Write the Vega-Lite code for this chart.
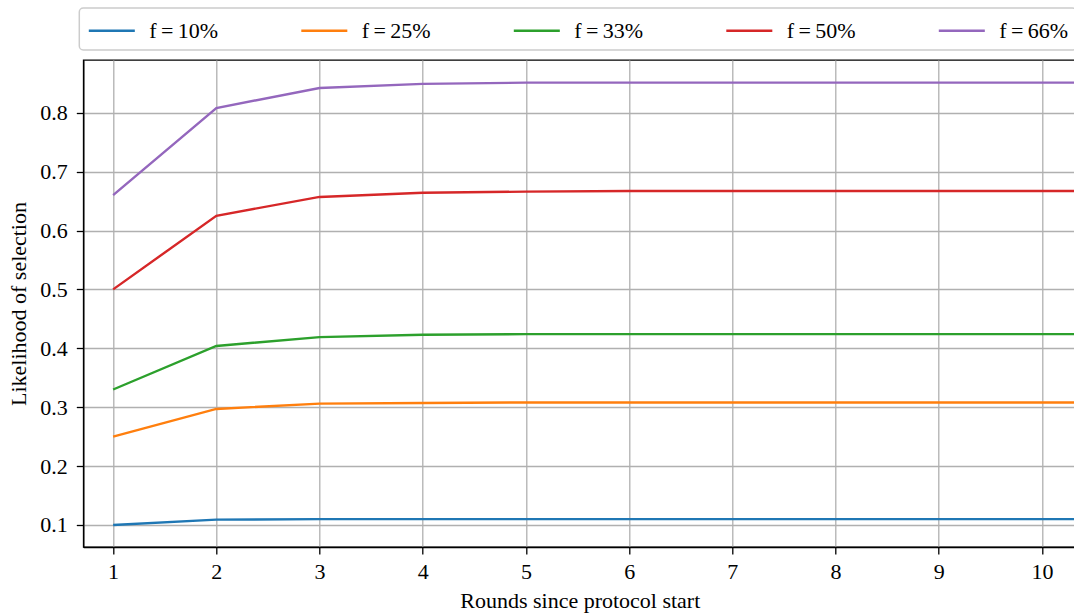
{
  "$schema": "https://vega.github.io/schema/vega-lite/v6.json",
  "width": 993,
  "height": 487,
  "autosize": "none",
  "padding": {"left": 83.3, "top": 60, "right": 0, "bottom": 67},
  "background": "white",
  "config": {
    "view": {"stroke": "black", "strokeWidth": 1.3},
    "font": "Liberation Serif",
    "legend": {"strokeColor": "#cccccc", "strokeWidth": 1.5, "cornerRadius": 4, "fillColor": "white", "labelFont": "Liberation Serif", "labelFontSize": 22},
    "axis": {
      "labelFont": "Liberation Serif",
      "titleFont": "Liberation Serif",
      "labelFontSize": 22,
      "titleFontSize": 22,
      "labelColor": "black",
      "titleColor": "black",
      "titleFontWeight": "normal",
      "domainColor": "black",
      "domainWidth": 1.3,
      "tickColor": "black",
      "tickWidth": 1.3,
      "tickSize": 7,
      "gridColor": "#b0b0b0",
      "gridWidth": 1.3,
      "gridOpacity": 1
    }
  },
  "data": {
    "values": [
      {"round": 1, "f": "f10", "p": 0.100}, {"round": 2, "f": "f10", "p": 0.109}, {"round": 3, "f": "f10", "p": 0.110}, {"round": 4, "f": "f10", "p": 0.110}, {"round": 5, "f": "f10", "p": 0.110}, {"round": 6, "f": "f10", "p": 0.110}, {"round": 7, "f": "f10", "p": 0.110}, {"round": 8, "f": "f10", "p": 0.110}, {"round": 9, "f": "f10", "p": 0.110}, {"round": 10, "f": "f10", "p": 0.110}, {"round": 11, "f": "f10", "p": 0.110},
      {"round": 1, "f": "f25", "p": 0.250}, {"round": 2, "f": "f25", "p": 0.297}, {"round": 3, "f": "f25", "p": 0.306}, {"round": 4, "f": "f25", "p": 0.307}, {"round": 5, "f": "f25", "p": 0.308}, {"round": 6, "f": "f25", "p": 0.308}, {"round": 7, "f": "f25", "p": 0.308}, {"round": 8, "f": "f25", "p": 0.308}, {"round": 9, "f": "f25", "p": 0.308}, {"round": 10, "f": "f25", "p": 0.308}, {"round": 11, "f": "f25", "p": 0.308},
      {"round": 1, "f": "f33", "p": 0.330}, {"round": 2, "f": "f33", "p": 0.404}, {"round": 3, "f": "f33", "p": 0.419}, {"round": 4, "f": "f33", "p": 0.423}, {"round": 5, "f": "f33", "p": 0.424}, {"round": 6, "f": "f33", "p": 0.424}, {"round": 7, "f": "f33", "p": 0.424}, {"round": 8, "f": "f33", "p": 0.424}, {"round": 9, "f": "f33", "p": 0.424}, {"round": 10, "f": "f33", "p": 0.424}, {"round": 11, "f": "f33", "p": 0.424},
      {"round": 1, "f": "f50", "p": 0.500}, {"round": 2, "f": "f50", "p": 0.625}, {"round": 3, "f": "f50", "p": 0.657}, {"round": 4, "f": "f50", "p": 0.664}, {"round": 5, "f": "f50", "p": 0.666}, {"round": 6, "f": "f50", "p": 0.667}, {"round": 7, "f": "f50", "p": 0.667}, {"round": 8, "f": "f50", "p": 0.667}, {"round": 9, "f": "f50", "p": 0.667}, {"round": 10, "f": "f50", "p": 0.667}, {"round": 11, "f": "f50", "p": 0.667},
      {"round": 1, "f": "f66", "p": 0.660}, {"round": 2, "f": "f66", "p": 0.808}, {"round": 3, "f": "f66", "p": 0.842}, {"round": 4, "f": "f66", "p": 0.849}, {"round": 5, "f": "f66", "p": 0.851}, {"round": 6, "f": "f66", "p": 0.851}, {"round": 7, "f": "f66", "p": 0.851}, {"round": 8, "f": "f66", "p": 0.851}, {"round": 9, "f": "f66", "p": 0.851}, {"round": 10, "f": "f66", "p": 0.851}, {"round": 11, "f": "f66", "p": 0.851}
    ]
  },
  "mark": {"type": "line", "strokeWidth": 2.4, "clip": true},
  "encoding": {
    "x": {
      "field": "round", "type": "quantitative",
      "scale": {"domain": [0.711, 10.333], "nice": false, "zero": false},
      "axis": {"values": [1,2,3,4,5,6,7,8,9,10], "title": "Rounds since protocol start", "labelPadding": 8, "titlePadding": 8, "labelFlush": false}
    },
    "y": {
      "field": "p", "type": "quantitative",
      "scale": {"domain": [0.0626, 0.8895], "nice": false, "zero": false},
      "axis": {"values": [0.1,0.2,0.3,0.4,0.5,0.6,0.7,0.8], "format": ".1f", "title": "Likelihood of selection", "labelPadding": 9, "titlePadding": 9, "labelFlush": false}
    },
    "color": {
      "field": "f", "type": "nominal",
      "scale": {"domain": ["f10","f25","f33","f50","f66"], "range": ["#1f77b4","#ff7f0e","#2ca02c","#d62728","#9467bd"]},
      "legend": {
        "orient": "none",
        "legendX": -4,
        "legendY": -52,
        "direction": "horizontal",
        "columns": 5,
        "title": null,
        "symbolType": "M-1,0H2.54",
        "symbolSize": 676,
        "symbolStrokeWidth": 2.6,
        "labelExpr": "'f\u2009=\u2009' + slice(datum.label, 1) + '%'",
        "labelFont": "Liberation Serif",
        "labelFontSize": 22,
        "labelColor": "black",
        "labelOffset": 33,
        "labelLimit": 200,
        "columnPadding": 77.5,
        "padding": 8
      }
    }
  }
}
